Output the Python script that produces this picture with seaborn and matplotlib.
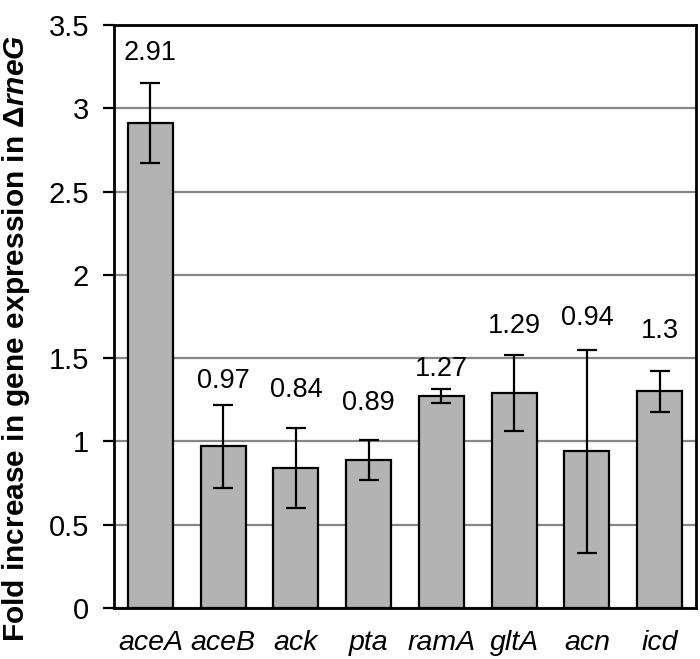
import matplotlib
matplotlib.use("Agg")
import matplotlib.pyplot as plt
import seaborn as sns
import numpy as np
import pandas as pd

genes = ["aceA", "aceB", "ack", "pta", "ramA", "gltA", "acn", "icd"]
fold = [2.91, 0.97, 0.84, 0.89, 1.27, 1.29, 0.94, 1.30]
err = [0.24, 0.25, 0.24, 0.12, 0.042, 0.23, 0.61, 0.125]
value_labels = ["2.91", "0.97", "0.84", "0.89", "1.27", "1.29", "0.94", "1.3"]
yticks = [0, 0.5, 1, 1.5, 2, 2.5, 3, 3.5]
ytick_labels = ["0", "0.5", "1", "1.5", "2", "2.5", "3", "3.5"]

# layout: gap between error-bar top and value label (data units)
label_gap = [0.18, 0.14, 0.23, 0.22, 0.12, 0.17, 0.19, 0.24]

sns.set_theme(style="white")
plt.rcParams["font.family"] = ["Liberation Sans", "DejaVu Sans"]
plt.rcParams["mathtext.fontset"] = "custom"
plt.rcParams["mathtext.rm"] = "Liberation Sans:bold"
plt.rcParams["mathtext.it"] = "Liberation Sans:bold:italic"

df = pd.DataFrame({"gene": genes, "fold": fold})

W, H = 700, 659
fig = plt.figure(figsize=(W / 100, H / 100), dpi=100)
ax = fig.add_axes([114 / W, 1 - 608 / H, (696 - 114) / W, (608 - 25) / H])

ax.set_axisbelow(True)
ax.yaxis.grid(True, color="#868686", linewidth=1.6)
ax.xaxis.grid(False)

sns.barplot(data=df, x="gene", y="fold", color="#b3b3b3", saturation=1,
            edgecolor="black", linewidth=1.6, width=0.62, ax=ax, errorbar=None)

xpos = np.arange(len(genes))
ax.errorbar(xpos, fold, yerr=err, fmt="none", ecolor="black",
            elinewidth=1.6, capsize=7, capthick=1.6, zorder=5)

for x, v, e, g, lab in zip(xpos, fold, err, label_gap, value_labels):
    ax.text(x, v + e + g, lab, ha="center", va="center", fontsize=19.5,
            color="black")

ax.set_ylim(0, 3.5)
ax.set_xlim(-0.5, len(genes) - 0.5)
ax.set_yticks(yticks)
ax.set_yticklabels(ytick_labels)
ax.set_xticks(xpos)
ax.set_xticklabels(genes, fontstyle="italic")
ax.tick_params(axis="y", direction="out", length=8, width=1.6, color="black",
               pad=10, left=True, labelsize=21, labelcolor="black")
ax.tick_params(axis="x", length=0, pad=16, labelsize=20.5, labelcolor="black")

for s in ["left", "right", "top", "bottom"]:
    ax.spines[s].set_visible(True)
    ax.spines[s].set_color("black")
    ax.spines[s].set_linewidth(2)

ax.set_xlabel("")
ax.set_ylabel("Fold increase in gene expression in Δ$\\mathit{rneG}$",
              fontsize=21.5, fontweight="bold", color="black")
ax.yaxis.set_label_coords((32 - 114) / (696 - 114), 0.462)

fig.savefig("out.png", dpi=100)
